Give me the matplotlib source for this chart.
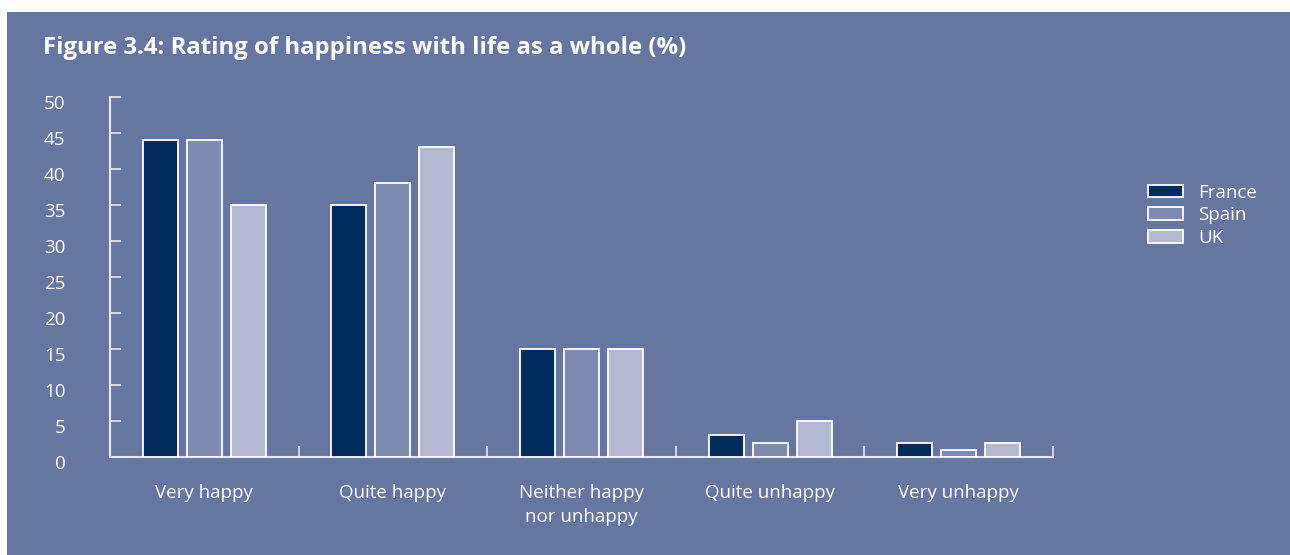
import matplotlib.pyplot as plt
import matplotlib.transforms as mtransforms
from matplotlib.patches import Rectangle
import numpy as np

plt.rcParams['font.family'] = ['Open Sans', 'DejaVu Sans']

categories = ['Very happy', 'Quite happy', 'Neither happy\nnor unhappy', 'Quite unhappy', 'Very unhappy']
series = ['France', 'Spain', 'UK']
france = [44, 35, 15, 3, 2]
spain = [44, 38, 15, 2, 1]
uk = [35, 43, 15, 5, 2]
y_ticks = [0, 5, 10, 15, 20, 25, 30, 35, 40, 45, 50]

bg = '#6577a0'
colors = ['#002a5c', '#7d8bb0', '#b3bad4']

fig = plt.figure(figsize=(12.9, 5.55), dpi=100, facecolor='white')
fig.patches.append(Rectangle((7 / 1290, 0), 1, 1 - 12 / 555, transform=fig.transFigure,
                             facecolor=bg, edgecolor='none', zorder=-10))

fig.text(43 / 1290, 1 - 48 / 555, 'Figure 3.4: Rating of happiness with life as a whole (%)',
         color='white', fontsize=17.2, fontweight='bold', va='center', ha='left')

ax = fig.add_axes([110 / 1290, 1 - 457 / 555, (1053 - 110) / 1290, (457 - 97) / 555])
ax.set_facecolor('none')

x = np.arange(len(categories))
offset = 0.233
width = 0.186
for i, (vals, name) in enumerate(zip([france, spain, uk], series)):
    ax.bar(x + (i - 1) * offset, vals, width, color=colors[i], edgecolor='white',
           linewidth=1.3, label=name, zorder=3)

ax.set_xlim(-0.5, 4.5)
ax.set_ylim(0, 50)

for s in ['top', 'right']:
    ax.spines[s].set_visible(False)
for s in ['left', 'bottom']:
    ax.spines[s].set_color('#e8eaf2')
    ax.spines[s].set_linewidth(1.5)

ax.set_yticks(y_ticks)
ax.set_yticklabels([str(v) for v in y_ticks])
ax.tick_params(axis='y', direction='in', length=8, width=1.2, color='#e8eaf2',
               labelcolor='white', labelsize=13.5, pad=32)
for lbl in ax.get_yticklabels():
    lbl.set_transform(lbl.get_transform() + mtransforms.ScaledTranslation(0, -5 / 100, fig.dpi_scale_trans))

ax.set_xticks(np.arange(0.5, 5, 1))
ax.tick_params(axis='x', direction='in', length=8, width=1.2, color='#e8eaf2', labelbottom=False)
for xi, cat in zip(x, categories):
    ax.text(xi, -3.7, cat, ha='center', va='top', color='white', fontsize=13.5,
            linespacing=1.45, transform=ax.transData)

leg = fig.legend(loc='upper left', bbox_to_anchor=(1140 / 1290, 1 - 176 / 555), frameon=False,
                 fontsize=13.5, labelcolor='white', handlelength=1.9, handleheight=0.65,
                 handletextpad=0.8, labelspacing=0.25, borderaxespad=0)

fig.savefig('out.png', dpi=100, facecolor='white')
